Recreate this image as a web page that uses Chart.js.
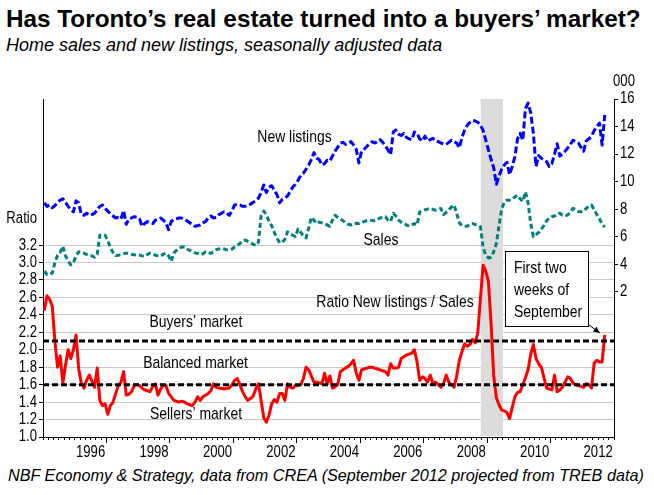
<!DOCTYPE html>
<html><head><meta charset="utf-8">
<script src="https://cdn.jsdelivr.net/npm/chart.js@4"></script>
<style>
html,body{margin:0;padding:0;background:#fff;}
body{width:654px;height:495px;position:relative;overflow:hidden;font-family:"Liberation Sans",Arial,sans-serif;color:#000;}
#title{position:absolute;left:6px;top:7px;font-weight:bold;font-size:24.3px;line-height:24px;white-space:nowrap;}
#subtitle{position:absolute;left:6px;top:36px;font-style:italic;font-size:18px;line-height:18px;white-space:nowrap;}
#footer{position:absolute;left:8px;top:466px;font-style:italic;font-size:16.2px;line-height:18px;white-space:nowrap;}
#wrap{position:absolute;left:0;top:60px;width:654px;height:400px;}
</style></head>
<body>
<div id="title">Has Toronto’s real estate turned into a buyers’ market?</div>
<div id="subtitle">Home sales and new listings, seasonally adjusted data</div>
<div id="wrap"><canvas id="c" width="654" height="400"></canvas></div>
<div id="footer">NBF Economy &amp; Strategy, data from CREA (September 2012 projected from TREB data)</div>
<script>
// ---- Data (monthly, Jan 1995 – Sep 2012) ----
const firstYear = 1995;
const newListings = [ // thousands, right axis
8.45,8.2,8.3,8.1,8.25,8.5,8.65,8.75,8.5,8.2,
7.95,7.8,8.6,8.45,7.6,7.55,7.7,7.55,7.6,7.7,
7.95,8.2,8.3,8.05,7.85,7.65,7.5,7.35,7.4,7.3,
7.9,6.9,7.3,7.35,7.45,7.4,7.3,6.75,6.95,7.1,
7.0,6.95,7.2,7.25,7.35,7.2,7.0,6.5,7.1,7.25,
7.3,7.35,7.35,7.25,7.15,7.0,6.9,6.75,6.8,6.85,
7.0,7.1,7.35,7.5,7.35,7.4,7.6,7.7,7.8,7.7,
7.55,7.9,8.3,8.35,8.3,8.2,8.2,8.3,8.35,8.5,
8.6,8.8,9.2,9.75,9.2,9.6,9.7,9.35,9.05,8.45,
8.7,8.8,8.95,9.3,9.6,9.8,10.1,10.45,10.6,10.9,
11.2,11.6,12.1,11.7,11.6,11.2,11.3,11.55,11.5,11.85,
12.2,12.5,12.8,12.85,12.7,12.8,12.9,12.65,12.35,11.35,
12.2,12.35,12.55,12.75,12.9,12.8,12.9,13.05,12.85,12.6,
12.3,11.95,13.6,13.75,13.45,13.35,13.5,13.2,13.1,13.05,
13.6,13.5,13.1,12.95,13.3,12.95,13.05,13.15,12.95,12.9,
12.8,12.75,12.7,12.85,13.0,12.9,12.8,12.45,13.2,13.75,
14.1,14.3,14.45,14.4,14.3,14.1,13.7,13.0,12.3,11.6,
11.0,9.8,10.4,10.9,11.2,11.4,10.5,11.1,11.8,13.1,
13.5,13.0,15.3,15.7,15.0,13.5,11.1,11.9,11.7,11.55,
11.45,11.1,11.3,12.0,12.75,11.85,12.0,12.2,12.45,12.7,
13.0,12.9,12.8,12.5,12.2,12.95,13.1,13.3,13.7,14.0,
14.25,12.65,14.85];
const sales = [ // thousands, right axis
3.5,3.25,3.22,3.35,4.1,4.65,4.85,5.3,4.6,4.25,
3.95,4.1,4.6,4.9,4.85,4.8,4.7,4.65,4.6,4.5,
4.7,6.1,6.15,6.1,5.7,5.2,4.85,4.62,4.65,4.68,
4.75,4.8,4.78,4.72,4.68,4.65,4.66,4.6,4.55,4.7,
4.8,4.72,4.65,4.6,4.58,4.72,4.8,4.6,4.2,4.8,
5.0,5.15,5.25,5.25,5.1,5.0,4.9,4.82,4.78,4.7,
4.75,4.9,4.85,4.78,4.9,5.05,5.1,5.15,5.1,5.05,
5.02,5.1,5.25,5.35,5.5,5.7,5.75,5.65,5.55,5.45,
5.35,5.6,7.5,7.85,7.6,7.1,6.8,6.3,5.9,5.55,
5.6,5.8,6.35,6.2,6.1,6.0,6.55,6.3,6.05,5.9,
6.6,7.4,7.2,6.95,7.05,7.0,6.95,6.85,6.75,7.2,
7.55,7.4,7.3,7.15,7.0,6.9,6.85,6.95,6.97,6.95,
7.0,7.1,7.15,7.2,7.18,7.16,7.25,7.35,7.4,7.45,
7.2,7.1,7.7,7.5,7.2,7.05,6.95,6.85,6.75,6.85,
6.95,6.85,7.8,7.85,7.95,8.0,8.05,7.98,7.92,8.0,
8.05,7.6,7.75,7.95,8.15,8.3,7.7,7.0,6.8,6.75,
6.75,6.9,6.95,6.88,6.85,6.7,5.2,4.65,4.45,4.5,
4.9,5.5,6.8,8.0,8.5,8.65,8.65,8.7,8.9,9.0,
8.75,8.55,9.25,8.45,6.95,6.0,6.15,6.3,6.55,6.8,
7.15,7.35,7.45,7.5,7.65,7.7,7.55,7.5,7.58,7.8,
8.05,7.95,7.82,7.8,7.85,8.05,8.2,8.3,7.95,7.6,
7.3,6.9,6.7];
const ratio = [ // new listings / sales, left axis
2.45,2.62,2.58,2.5,2.1,1.8,1.93,1.62,1.82,2.0,
1.9,2.0,2.17,1.78,1.62,1.56,1.65,1.71,1.64,1.57,
1.79,1.42,1.36,1.38,1.26,1.36,1.4,1.5,1.59,1.63,
1.75,1.48,1.49,1.52,1.59,1.6,1.59,1.56,1.54,1.53,
1.52,1.58,1.61,1.48,1.55,1.59,1.59,1.5,1.46,1.42,
1.41,1.4,1.41,1.4,1.38,1.37,1.36,1.4,1.46,1.42,
1.46,1.48,1.5,1.53,1.61,1.57,1.56,1.56,1.55,1.56,
1.56,1.6,1.65,1.67,1.6,1.52,1.46,1.42,1.44,1.47,
1.55,1.61,1.42,1.22,1.17,1.25,1.38,1.43,1.4,1.5,
1.5,1.42,1.61,1.57,1.56,1.59,1.59,1.6,1.67,1.8,
1.77,1.7,1.63,1.63,1.62,1.61,1.73,1.61,1.7,1.56,
1.58,1.6,1.75,1.77,1.79,1.81,1.84,1.88,1.73,1.65,
1.77,1.78,1.79,1.8,1.8,1.79,1.78,1.77,1.76,1.75,
1.71,1.84,1.79,1.79,1.8,1.9,1.92,1.94,1.95,1.96,
2.0,1.86,1.65,1.69,1.67,1.63,1.71,1.61,1.63,1.6,
1.57,1.61,1.71,1.63,1.6,1.57,1.7,1.88,1.98,2.07,
2.04,2.06,2.12,2.08,2.2,2.6,2.97,2.9,2.78,2.3,
1.7,1.45,1.37,1.31,1.3,1.28,1.21,1.34,1.46,1.51,
1.52,1.6,1.68,1.77,1.95,2.06,1.9,1.84,1.8,1.68,
1.56,1.55,1.54,1.71,1.52,1.54,1.57,1.63,1.69,1.67,
1.62,1.6,1.59,1.58,1.57,1.61,1.6,1.56,1.85,1.88,
1.86,1.86,2.17];
const buyersThreshold = 2.1;
const sellersThreshold = 1.6;
const recession = [2008.8, 2009.5];
const yearLabels = ['1996','1998','2000','2002','2004','2006','2008','2010','2012'];
const ratioTicks = [1.0,1.2,1.4,1.6,1.8,2.0,2.2,2.4,2.6,2.8,3.0,3.2];
const thousandsTicks = [2,4,6,8,10,12,14,16];
const xRange = [1995, 2013];

// ---- helpers ----
const monthX = ratio.map((_, i) => firstYear + (i + 0.5) / 12);
const pts = arr => arr.map((v, i) => ({x: monthX[i], y: v}));
// "NarrowSim" is not installed: it falls back to Liberation Sans, and text set in it
// is drawn horizontally condensed (Arial Narrow look) by the context wrapper below.
const NARROW = "NarrowSim, 'Liberation Sans', Arial, sans-serif";
const NARROW_FACTOR = 0.82;
const tickFont = {family: NARROW, size: 16};
const RATIO_TITLE_POS = 3.5;
const CLEAR = 'rgba(0,0,0,0)';
const minorTicks = [];
for (let k = 0; k <= (xRange[1] - xRange[0]) * 6; k++) minorTicks.push(xRange[0] + k / 6);
const labelPos = yearLabels.map(l => parseInt(l, 10) + 0.5);
const majorPos = yearLabels.map(l => parseInt(l, 10) + 1).filter(v => v < xRange[1]);

const canvas = document.getElementById('c');
const c2d = canvas.getContext('2d');
const rawFillText = c2d.fillText.bind(c2d);
c2d.fillText = function (t, x, y, mw) {
  if (String(this.font).indexOf('NarrowSim') >= 0) {
    this.save();
    this.translate(x, y);
    this.scale(NARROW_FACTOR, 1);
    if (mw !== undefined) rawFillText(t, 0, 0, mw / NARROW_FACTOR); else rawFillText(t, 0, 0);
    this.restore();
  } else if (mw !== undefined) rawFillText(t, x, y, mw); else rawFillText(t, x, y);
};

const annot = {
  id: 'annot',
  beforeDatasetsDraw(chart) {
    const {ctx, chartArea: a, scales} = chart;
    const x1 = scales.x.getPixelForValue(recession[0]);
    const x2 = scales.x.getPixelForValue(recession[1]);
    ctx.save();
    ctx.fillStyle = '#dcdcdc';
    ctx.fillRect(x1, a.top, x2 - x1, a.bottom - a.top - 1);
    ctx.restore();
  },
  afterDatasetsDraw(chart) {
    const {ctx, scales} = chart;
    ctx.save();
    ctx.fillStyle = '#000';
    ctx.textBaseline = 'middle';
    ctx.textAlign = 'center';
    ctx.font = "17px " + NARROW;
    const texts = [
      ['New listings', 294.5, 77],
      ['Sales', 381, 180],
      ['Ratio New listings / Sales', 395, 242],
      ['Buyers’ market', 196, 262],
      ['Balanced market', 195.5, 303],
      ['Sellers’ market', 196, 354]
    ];
    texts.forEach(t => ctx.fillText(t[0], t[1], t[2]));
    ctx.font = "16px " + NARROW;
    ctx.fillText('000', 624, 22);
    // call-out box
    const bx = 505.5, by = 191.5, bw = 83, bh = 75;
    ctx.fillStyle = '#fff';
    ctx.fillRect(bx, by, bw, bh);
    ctx.strokeStyle = '#000';
    ctx.lineWidth = 1;
    ctx.strokeRect(bx, by, bw, bh);
    ctx.fillStyle = '#000';
    ctx.textAlign = 'left';
    ctx.font = "17px " + NARROW;
    ['First two', 'weeks of', 'September'].forEach((s, i) => ctx.fillText(s, 514, 208.5 + i * 21.7));
    // arrow to last ratio point
    const n = ratio.length - 1;
    const px = scales.x.getPixelForValue(monthX[n]);
    const py = scales.yR.getPixelForValue(ratio[n]);
    const tx = px - 5, ty = py - 2;
    const sx = bx + bw, sy = by + bh - 2;
    ctx.beginPath();
    ctx.moveTo(sx, sy);
    ctx.lineTo(tx, ty);
    ctx.stroke();
    const ang = Math.atan2(ty - sy, tx - sx);
    ctx.beginPath();
    ctx.moveTo(tx, ty);
    ctx.lineTo(tx - 7 * Math.cos(ang - 0.45), ty - 7 * Math.sin(ang - 0.45));
    ctx.lineTo(tx - 7 * Math.cos(ang + 0.45), ty - 7 * Math.sin(ang + 0.45));
    ctx.closePath();
    ctx.fill();
    ctx.restore();
  }
};

new Chart(canvas, {
  type: 'line',
  data: {
    datasets: [
      {label: 'Buyers’ market threshold', data: [{x: xRange[0], y: buyersThreshold}, {x: xRange[1], y: buyersThreshold}],
       yAxisID: 'yR', borderColor: '#000', borderWidth: 3, borderDash: [6, 3], order: 0},
      {label: 'Sellers’ market threshold', data: [{x: xRange[0], y: sellersThreshold}, {x: xRange[1], y: sellersThreshold}],
       yAxisID: 'yR', borderColor: '#000', borderWidth: 3, borderDash: [6, 3], order: 0},
      {label: 'Ratio New listings / Sales', data: pts(ratio), yAxisID: 'yR', borderColor: '#ff0000', borderWidth: 3, order: 1},
      {label: 'New listings', data: pts(newListings), yAxisID: 'yL', borderColor: '#0000ff', borderWidth: 3, borderDash: [7, 3], order: 2},
      {label: 'Sales', data: pts(sales), yAxisID: 'yL', borderColor: '#008080', borderWidth: 3, borderDash: [5, 3], order: 3}
    ]
  },
  options: {
    responsive: false, animation: false, devicePixelRatio: 1,
    elements: {point: {radius: 0}, line: {tension: 0, borderJoinStyle: 'round', borderCapStyle: 'butt'}},
    plugins: {legend: {display: false}, tooltip: {enabled: false}, title: {display: false}},
    layout: {padding: {top: 39, left: 0, right: 0, bottom: 0}},
    scales: {
      x: {
        type: 'linear', position: 'bottom', min: xRange[0], max: xRange[1], weight: 0,
        afterBuildTicks: s => { s.ticks = minorTicks.map(v => ({value: v})); },
        ticks: {display: false},
        grid: {drawOnChartArea: false, drawTicks: true, tickLength: 3, tickColor: '#000', tickWidth: 1},
        border: {display: true, color: '#000', width: 1},
        afterFit: s => { s.height = 3; }
      },
      xl: {
        type: 'linear', position: 'bottom', min: xRange[0], max: xRange[1], weight: 1,
        afterBuildTicks: s => { s.ticks = labelPos.concat(majorPos).sort((a, b) => a - b).map(v => ({value: v})); },
        ticks: {autoSkip: false, maxRotation: 0, padding: 0, color: '#000', font: tickFont,
          callback: v => { const i = labelPos.indexOf(v); return i >= 0 ? yearLabels[i] : ''; }},
        grid: {drawOnChartArea: false, drawTicks: true, tickLength: 3,
          tickColor: c => (c.tick && majorPos.indexOf(c.tick.value) >= 0) ? '#000' : CLEAR},
        border: {display: false},
        afterFit: s => { s.height = 20; }
      },
      yR: {
        type: 'linear', position: 'left', min: 1.0, max: 4.875,
        afterBuildTicks: s => { s.ticks = ratioTicks.map(v => ({value: v})).concat([{value: RATIO_TITLE_POS}]); },
        ticks: {autoSkip: false, padding: 2, color: '#000', font: tickFont,
          callback: v => v === RATIO_TITLE_POS ? 'Ratio' : v.toFixed(1)},
        grid: {drawTicks: true, tickLength: 4, lineWidth: 1,
          color: c => (!c.tick || c.tick.value === RATIO_TITLE_POS || c.tick.value === 1.0) ? CLEAR : '#c8c8c8',
          tickColor: c => (c.tick && c.tick.value === RATIO_TITLE_POS) ? CLEAR : '#000'},
        border: {display: true, color: '#000', width: 1},
        afterFit: s => { s.width = 43; }
      },
      yL: {
        type: 'linear', position: 'right', min: -8.56, max: 16,
        afterBuildTicks: s => { s.ticks = thousandsTicks.map(v => ({value: v})); },
        ticks: {autoSkip: false, padding: 2, color: '#000', font: tickFont},
        grid: {drawOnChartArea: false, drawTicks: true, tickLength: 4, tickColor: '#000'},
        border: {display: true, color: '#000', width: 1},
        afterFit: s => { s.width = 40; }
      }
    }
  },
  plugins: [annot]
});
</script>
</body></html>
